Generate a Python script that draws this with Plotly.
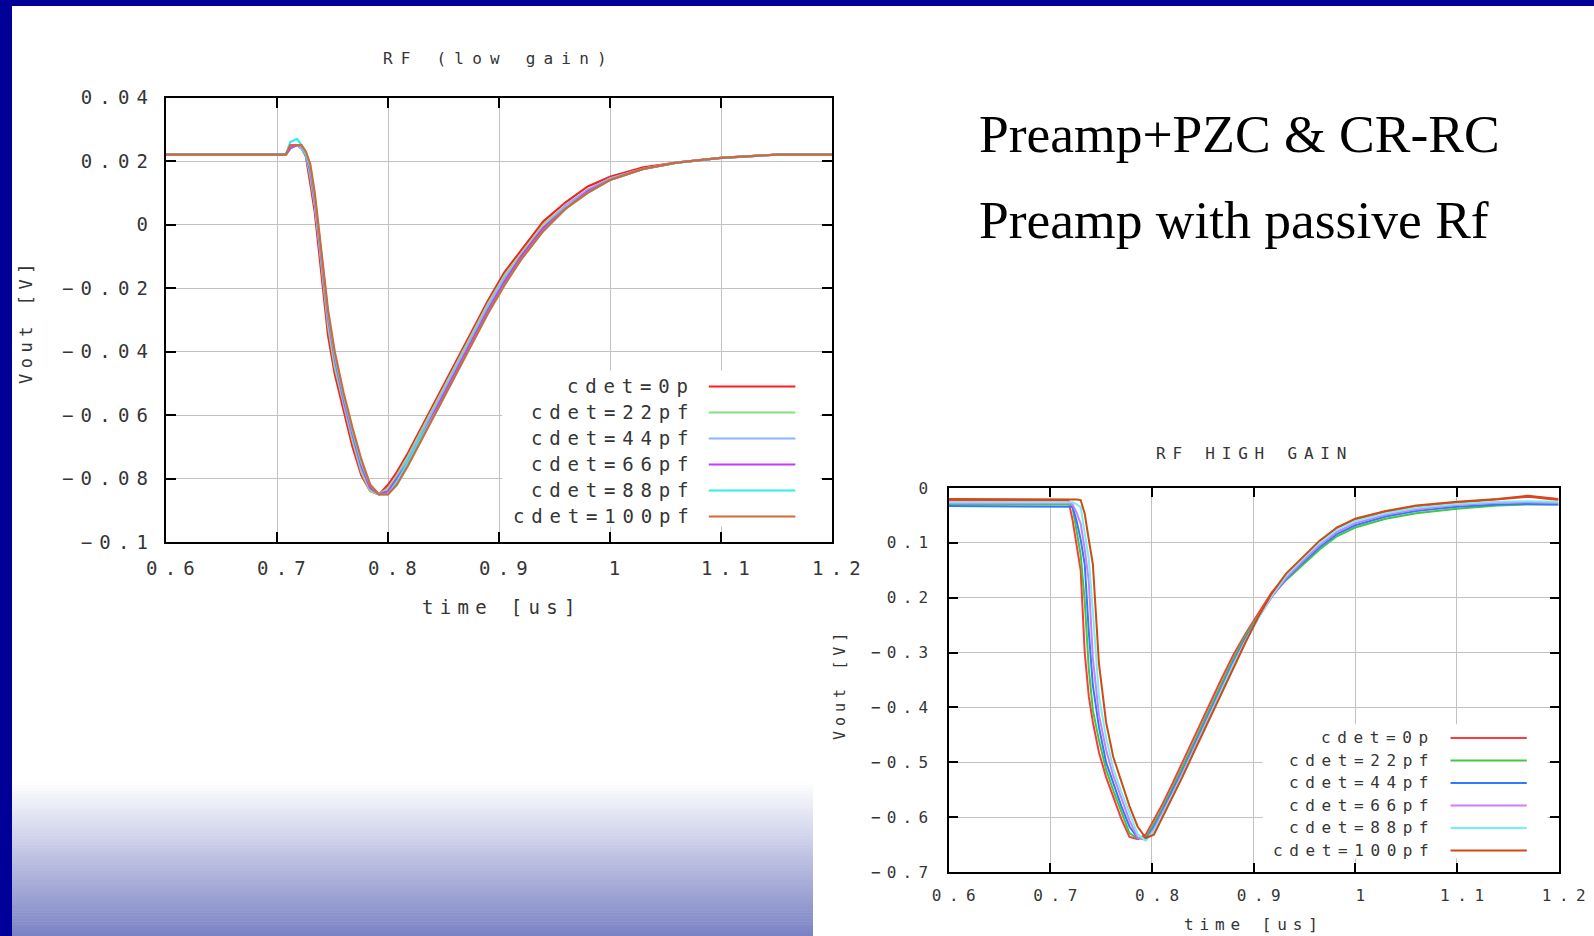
import plotly.graph_objects as go

W, H = 1594, 936

# ---------------- data: RF (low gain) ----------------
t_low = [0.600, 0.650, 0.700, 0.708, 0.712, 0.718, 0.722, 0.726, 0.730, 0.734,
         0.738, 0.742, 0.746, 0.752, 0.760, 0.768, 0.776, 0.784, 0.792, 0.800,
         0.808, 0.818, 0.830, 0.845, 0.860, 0.875, 0.890, 0.905, 0.920, 0.940,
         0.960, 0.980, 1.000, 1.030, 1.060, 1.100, 1.150, 1.200]

low_0p = [0.022, 0.022, 0.022, 0.022, 0.025, 0.025, 0.024, 0.0215, 0.013, 0.004,
          -0.009, -0.022, -0.035, -0.047, -0.059, -0.070, -0.079, -0.084, -0.085, -0.082,
          -0.078, -0.072, -0.064, -0.054, -0.044, -0.034, -0.024, -0.015, -0.008, 0.001,
          0.007, 0.012, 0.015, 0.018, 0.0195, 0.021, 0.022, 0.022]
low_22p = [0.022, 0.022, 0.022, 0.022, 0.024, 0.025, 0.024, 0.022, 0.015, 0.006,
           -0.006, -0.019, -0.032, -0.045, -0.057, -0.068, -0.078, -0.084, -0.085, -0.083,
           -0.079, -0.073, -0.065, -0.055, -0.045, -0.035, -0.025, -0.016, -0.009, 0.000,
           0.006, 0.011, 0.0145, 0.0175, 0.0195, 0.021, 0.022, 0.022]
low_44p = [0.022, 0.022, 0.022, 0.022, 0.025, 0.025, 0.024, 0.022, 0.016, 0.007,
           -0.005, -0.017, -0.030, -0.043, -0.056, -0.067, -0.077, -0.083, -0.085, -0.084,
           -0.080, -0.074, -0.066, -0.056, -0.046, -0.036, -0.026, -0.017, -0.010, -0.001,
           0.006, 0.011, 0.0145, 0.0175, 0.0195, 0.021, 0.022, 0.022]
low_66p = [0.022, 0.022, 0.022, 0.022, 0.024, 0.025, 0.025, 0.022, 0.017, 0.008,
           -0.004, -0.016, -0.029, -0.042, -0.055, -0.066, -0.076, -0.083, -0.085, -0.084,
           -0.080, -0.075, -0.067, -0.057, -0.047, -0.037, -0.027, -0.018, -0.010, -0.001,
           0.005, 0.0105, 0.014, 0.0175, 0.0195, 0.021, 0.022, 0.022]
low_88p = [0.022, 0.022, 0.022, 0.022, 0.026, 0.027, 0.025, 0.022, 0.018, 0.009,
           -0.003, -0.015, -0.028, -0.041, -0.054, -0.065, -0.075, -0.082, -0.085, -0.085,
           -0.081, -0.075, -0.067, -0.058, -0.048, -0.038, -0.028, -0.019, -0.011, -0.002,
           0.005, 0.010, 0.014, 0.0175, 0.0195, 0.021, 0.022, 0.022]
low_100p = [0.022, 0.022, 0.022, 0.022, 0.025, 0.025, 0.025, 0.023, 0.019, 0.010,
            -0.002, -0.014, -0.027, -0.040, -0.053, -0.064, -0.074, -0.082, -0.085, -0.085,
            -0.082, -0.076, -0.068, -0.058, -0.048, -0.038, -0.028, -0.019, -0.011, -0.002,
            0.005, 0.010, 0.014, 0.0175, 0.0195, 0.021, 0.022, 0.022]

# ---------------- data: RF HIGH GAIN ----------------
t_high = [0.600, 0.650, 0.700, 0.712, 0.718, 0.722, 0.726, 0.730, 0.734, 0.738,
          0.742, 0.748, 0.755, 0.762, 0.770, 0.778, 0.786, 0.794, 0.802, 0.810,
          0.820, 0.830, 0.842, 0.855, 0.868, 0.880, 0.892, 0.905, 0.918, 0.932,
          0.948, 0.965, 0.982, 1.000, 1.030, 1.060, 1.100, 1.140, 1.170, 1.200]

hi_0p = [-0.023, -0.023, -0.023, -0.023, -0.023, -0.058, -0.106, -0.150, -0.300, -0.380,
         -0.427, -0.482, -0.527, -0.564, -0.603, -0.636, -0.640, -0.632, -0.605, -0.578,
         -0.540, -0.500, -0.452, -0.400, -0.350, -0.305, -0.266, -0.228, -0.190, -0.160,
         -0.130, -0.100, -0.072, -0.058, -0.044, -0.035, -0.027, -0.020, -0.016, -0.022]
hi_22p = [-0.030, -0.030, -0.030, -0.030, -0.030, -0.035, -0.080, -0.122, -0.206, -0.330,
          -0.405, -0.460, -0.513, -0.551, -0.590, -0.629, -0.639, -0.637, -0.612, -0.585,
          -0.548, -0.510, -0.462, -0.410, -0.358, -0.312, -0.270, -0.232, -0.196, -0.168,
          -0.140, -0.112, -0.088, -0.072, -0.056, -0.046, -0.038, -0.032, -0.030, -0.030]
hi_44p = [-0.033, -0.033, -0.033, -0.033, -0.033, -0.034, -0.060, -0.094, -0.139, -0.262,
          -0.360, -0.436, -0.500, -0.537, -0.580, -0.617, -0.638, -0.640, -0.618, -0.590,
          -0.554, -0.516, -0.468, -0.416, -0.364, -0.318, -0.275, -0.235, -0.198, -0.166,
          -0.137, -0.108, -0.084, -0.068, -0.052, -0.042, -0.034, -0.030, -0.029, -0.030]
hi_66p = [-0.028, -0.028, -0.028, -0.028, -0.028, -0.030, -0.045, -0.065, -0.112, -0.170,
          -0.310, -0.414, -0.477, -0.524, -0.567, -0.606, -0.637, -0.642, -0.622, -0.594,
          -0.558, -0.520, -0.472, -0.420, -0.368, -0.321, -0.278, -0.236, -0.198, -0.164,
          -0.134, -0.104, -0.080, -0.064, -0.049, -0.039, -0.031, -0.027, -0.026, -0.027]
hi_88p = [-0.026, -0.026, -0.026, -0.026, -0.026, -0.026, -0.030, -0.035, -0.082, -0.130,
          -0.225, -0.380, -0.455, -0.511, -0.554, -0.594, -0.631, -0.643, -0.626, -0.598,
          -0.562, -0.524, -0.476, -0.424, -0.372, -0.324, -0.280, -0.236, -0.196, -0.160,
          -0.130, -0.100, -0.076, -0.060, -0.046, -0.036, -0.029, -0.025, -0.024, -0.025]
hi_100p = [-0.020, -0.020, -0.020, -0.020, -0.020, -0.020, -0.021, -0.022, -0.047, -0.094,
           -0.139, -0.320, -0.427, -0.490, -0.537, -0.580, -0.617, -0.638, -0.632, -0.602,
           -0.566, -0.527, -0.479, -0.427, -0.375, -0.327, -0.282, -0.234, -0.192, -0.156,
           -0.126, -0.096, -0.072, -0.056, -0.042, -0.032, -0.025, -0.020, -0.014, -0.020]

series_names = ["cdet=0p", "cdet=22pf", "cdet=44pf", "cdet=66pf", "cdet=88pf", "cdet=100pf"]
low_series = [low_0p, low_22p, low_44p, low_66p, low_88p, low_100p]
hi_series = [hi_0p, hi_22p, hi_44p, hi_66p, hi_88p, hi_100p]

low_colors = ["#FF1E1E", "#86DE86", "#86B6FF", "#C23CFF", "#30EDED", "#D26A38"]
hi_colors = ["#FF3A3A", "#40C840", "#2F7BFF", "#D07CFF", "#74F0F0", "#D04A12"]

x_tickvals = [0.6, 0.7, 0.8, 0.9, 1.0, 1.1, 1.2]
x_ticktext = ["0.6", "0.7", "0.8", "0.9", "1", "1.1", "1.2"]
low_y_tickvals = [0.04, 0.02, 0.0, -0.02, -0.04, -0.06, -0.08, -0.1]
low_y_ticktext = ["0.04", "0.02", "0", "-0.02", "-0.04", "-0.06", "-0.08", "-0.1"]
hi_y_tickvals = [0.0, -0.1, -0.2, -0.3, -0.4, -0.5, -0.6, -0.7]
hi_y_ticktext = ["0", "0.1", "0.2", "-0.3", "-0.4", "-0.5", "-0.6", "-0.7"]

title_low = "RF (low gain)"
title_high = "RF HIGH GAIN"
x_title = "time [us]"
y_title = "Vout [V]"
slide_lines = ["Preamp+PZC & CR-RC", "Preamp with passive Rf"]

# ---------------- helpers ----------------
MONO = "DejaVu Sans Mono"
TXT = "#353535"


def sp(text, ls):
    return '<span style="letter-spacing:%gpx">%s</span>' % (ls, text.replace("-", "\u2212"))


def px_x(p):
    return p / W


def px_y(p):
    return 1 - p / H


fig = go.Figure()

for name, ys, c in zip(series_names, low_series, low_colors):
    fig.add_trace(go.Scatter(x=t_low, y=ys, mode="lines", name=name,
                             line=dict(color=c, width=2.2), xaxis="x", yaxis="y"))
for name, ys, c in zip(series_names, hi_series, hi_colors):
    fig.add_trace(go.Scatter(x=t_high, y=ys, mode="lines", name=name,
                             line=dict(color=c, width=2), xaxis="x2", yaxis="y2"))

axis_common = dict(showgrid=True, gridcolor="#C2C2C2", gridwidth=1, showline=True,
                   linecolor="black", linewidth=2, mirror="ticks", ticks="inside",
                   tickcolor="black", tickwidth=1.5, zeroline=False, fixedrange=True,
                   tickmode="array", automargin=False)

fig.update_layout(
    template="none",
    width=W, height=H, autosize=False,
    margin=dict(l=0, r=0, t=0, b=0, pad=0),
    paper_bgcolor="white", plot_bgcolor="white", showlegend=False,
    font=dict(family=MONO, color=TXT),
    xaxis=dict(axis_common, domain=[px_x(166), px_x(832)], range=[0.6, 1.2],
               tickvals=x_tickvals, ticktext=[sp(t, 7.3) for t in x_ticktext],
               tickfont=dict(size=19, color=TXT), ticklen=10, ticklabelstandoff=8,
               ticklabelshift=8, anchor="y"),
    yaxis=dict(axis_common, domain=[px_y(542), px_y(97.5)], range=[-0.1, 0.04],
               tickvals=low_y_tickvals, ticktext=[sp(t, 7.2) for t in low_y_ticktext],
               tickfont=dict(size=19, color=TXT), ticklen=10, ticklabelstandoff=5,
               anchor="x"),
    xaxis2=dict(axis_common, domain=[px_x(948.5), px_x(1558.5)], range=[0.6, 1.2],
                tickvals=x_tickvals, ticktext=[sp(t, 7.6) for t in x_ticktext],
                tickfont=dict(size=16, color=TXT), ticklen=9, ticklabelstandoff=8,
                ticklabelshift=9, anchor="y2"),
    yaxis2=dict(axis_common, domain=[px_y(872), px_y(488)], range=[-0.7, 0],
                tickvals=hi_y_tickvals, ticktext=[sp(t, 6.2) for t in hi_y_ticktext],
                tickfont=dict(size=16, color=TXT), ticklen=9, ticklabelstandoff=9,
                anchor="x2"),
)

shapes = []
annotations = []

# bottom-left gradient panel (slide decoration)
g_top, g_bot, g_left, g_right = 782, 936, 12, 813
n_strips = 52
c0 = (255, 255, 255)
c1 = (122, 130, 196)
for i in range(n_strips):
    f = (i + 0.5) / n_strips
    col = "rgb(%d,%d,%d)" % tuple(round(a + (b - a) * f) for a, b in zip(c0, c1))
    y0 = g_top + (g_bot - g_top) * i / n_strips
    y1 = g_top + (g_bot - g_top) * (i + 1) / n_strips
    shapes.append(dict(type="rect", xref="paper", yref="paper", layer="below",
                       x0=px_x(g_left), x1=px_x(g_right), y0=px_y(y1 + 0.5), y1=px_y(y0),
                       fillcolor=col, line=dict(width=0)))

# blue slide border (top and left bars)
shapes.append(dict(type="rect", xref="paper", yref="paper", layer="above",
                   x0=0, x1=1, y0=px_y(6), y1=1, fillcolor="#000099", line=dict(width=0)))
shapes.append(dict(type="rect", xref="paper", yref="paper", layer="above",
                   x0=0, x1=px_x(12), y0=0, y1=1, fillcolor="#000099", line=dict(width=0)))


def add_legend(xd, yd, colors, fsize, ls, text_x, line_x0, line_x1, row0, step, lw, box):
    shapes.append(dict(type="rect", xref=xd, yref=yd, layer="above",
                       x0=box[0], x1=box[1], y0=box[2], y1=box[3],
                       fillcolor="white", line=dict(width=0)))
    for i, (name, c) in enumerate(zip(series_names, colors)):
        yy = row0 - i * step
        annotations.append(dict(xref=xd, yref=yd, x=text_x, y=yy, xanchor="right",
                                yanchor="middle", showarrow=False, text=sp(name, ls),
                                font=dict(family=MONO, size=fsize, color=TXT)))
        shapes.append(dict(type="line", xref=xd, yref=yd, layer="above",
                           x0=line_x0, x1=line_x1, y0=yy, y1=yy,
                           line=dict(color=c, width=lw)))


add_legend("x domain", "y domain", low_colors, 19, 6.8, 0.797, 0.815, 0.945,
           0.350, 0.0585, 2, [0.505, 0.982, 0.035, 0.385])
add_legend("x2 domain", "y2 domain", hi_colors, 16, 6.6, 0.800, 0.823, 0.948,
           0.349, 0.0586, 2, [0.515, 0.982, 0.035, 0.385])

# titles and axis titles
annotations += [
    dict(xref="paper", yref="paper", x=px_x(499), y=px_y(58), text=sp(title_low, 8.2),
         showarrow=False, xanchor="center", yanchor="middle",
         font=dict(family=MONO, size=16, color=TXT)),
    dict(xref="paper", yref="paper", x=px_x(502), y=px_y(607), text=sp(x_title, 6.3),
         showarrow=False, xanchor="center", yanchor="middle",
         font=dict(family=MONO, size=19, color=TXT)),
    dict(xref="paper", yref="paper", x=px_x(26), y=px_y(321), text=sp(y_title, 5.5),
         showarrow=False, xanchor="center", yanchor="middle", textangle=-90,
         font=dict(family=MONO, size=17, color=TXT)),
    dict(xref="paper", yref="paper", x=px_x(1254), y=px_y(453), text=sp(title_high, 6.8),
         showarrow=False, xanchor="center", yanchor="middle",
         font=dict(family=MONO, size=16, color=TXT)),
    dict(xref="paper", yref="paper", x=px_x(1254), y=px_y(924), text=sp(x_title, 5.9),
         showarrow=False, xanchor="center", yanchor="middle",
         font=dict(family=MONO, size=16, color=TXT)),
    dict(xref="paper", yref="paper", x=px_x(840), y=px_y(684), text=sp(y_title, 5),
         showarrow=False, xanchor="center", yanchor="middle", textangle=-90,
         font=dict(family=MONO, size=15, color=TXT)),
]
for line_text, yc in zip(slide_lines, [134, 220]):
    annotations.append(dict(xref="paper", yref="paper", x=px_x(977), y=px_y(yc),
                            text=line_text, showarrow=False, xanchor="left",
                            yanchor="middle",
                            font=dict(family="Liberation Serif", size=53.5, color="black")))

fig.update_layout(shapes=shapes, annotations=annotations)

page_css = ("document.documentElement.style.margin='0';"
            "document.documentElement.style.padding='0';"
            "document.documentElement.style.overflow='hidden';"
            "document.body.style.margin='0';"
            "document.body.style.padding='0';"
            "document.body.style.overflow='hidden';")

fig.write_html("out.html", include_plotlyjs=True, full_html=True,
               config={"displayModeBar": False, "responsive": False},
               post_script=page_css)
